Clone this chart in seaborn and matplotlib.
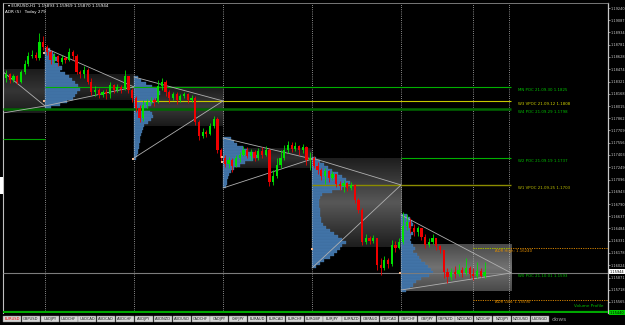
import numpy as np
import pandas as pd
import matplotlib
matplotlib.use("Agg")
import matplotlib.pyplot as plt
import seaborn as sns
from matplotlib.colors import LinearSegmentedColormap
from matplotlib.patches import Rectangle
from matplotlib.ticker import FixedLocator, FixedFormatter

# ---------------- data (EURUSD, H1) ----------------
first_open = 1.1837
closes = [1.1842, 1.1834, 1.1839, 1.1832, 1.1844, 1.1854, 1.1864, 1.1865, 1.1862, 1.1882, 1.1875,
          1.1869, 1.1859, 1.1864, 1.1857, 1.1862, 1.1859, 1.1869, 1.1864, 1.1844, 1.1842, 1.1847, 1.1832,
          1.1819, 1.1822, 1.1815, 1.1819, 1.1817, 1.1828, 1.1822, 1.1825, 1.1823, 1.1839, 1.1822, 1.1812,
          1.1799, 1.1787, 1.1803, 1.1807, 1.1809, 1.1807, 1.1827, 1.1832, 1.1819, 1.1812, 1.1817, 1.1809,
          1.1814, 1.1817, 1.1809, 1.1812, 1.1782, 1.1764, 1.1769, 1.1767, 1.1777, 1.1785, 1.1747, 1.1737,
          1.1729, 1.1734, 1.1727, 1.1737, 1.1740, 1.1747, 1.1739, 1.1744, 1.1737, 1.1745, 1.1740, 1.1747,
          1.1707, 1.1714, 1.1728, 1.1737, 1.1747, 1.1753, 1.1748, 1.1752, 1.1747, 1.1750, 1.1734, 1.1737,
          1.1727, 1.1722, 1.1714, 1.1720, 1.1712, 1.1717, 1.1704, 1.1702, 1.1705, 1.1699, 1.1703, 1.1684,
          1.1672, 1.1632, 1.1637, 1.1633, 1.1637, 1.1603, 1.1599, 1.1609, 1.1604, 1.1628, 1.1624, 1.1632,
          1.1652, 1.1657, 1.1649, 1.1644, 1.1649, 1.1638, 1.1628, 1.1632, 1.1637, 1.1627, 1.1622, 1.1594,
          1.1588, 1.1594, 1.1592, 1.1597, 1.1593, 1.1599, 1.1592, 1.1589, 1.1595, 1.1589, 1.1594]
highs = [1.1847, 1.1843, 1.1842, 1.1840, 1.1847, 1.1859, 1.1869, 1.1872, 1.1869, 1.1893, 1.1889,
         1.1878, 1.1872, 1.1868, 1.1865, 1.1865, 1.1864, 1.1874, 1.1872, 1.1867, 1.1847, 1.1852, 1.1849,
         1.1837, 1.1827, 1.1824, 1.1822, 1.1823, 1.1832, 1.1829, 1.1829, 1.1828, 1.1847, 1.1839, 1.1824,
         1.1814, 1.1803, 1.1809, 1.1810, 1.1813, 1.1812, 1.1834, 1.1837, 1.1834, 1.1822, 1.1819, 1.1819,
         1.1817, 1.1819, 1.1818, 1.1815, 1.1814, 1.1784, 1.1774, 1.1772, 1.1780, 1.1789, 1.1788, 1.1749,
         1.1740, 1.1738, 1.1737, 1.1740, 1.1744, 1.1752, 1.1750, 1.1748, 1.1747, 1.1749, 1.1750, 1.1752,
         1.1749, 1.1722, 1.1737, 1.1747, 1.1753, 1.1758, 1.1757, 1.1757, 1.1753, 1.1754, 1.1752, 1.1744,
         1.1739, 1.1732, 1.1724, 1.1724, 1.1722, 1.1720, 1.1715, 1.1708, 1.1709, 1.1707, 1.1707, 1.1704,
         1.1687, 1.1674, 1.1642, 1.1639, 1.1640, 1.1634, 1.1612, 1.1614, 1.1612, 1.1634, 1.1633, 1.1637,
         1.1669, 1.1667, 1.1662, 1.1654, 1.1652, 1.1649, 1.1642, 1.1637, 1.1642, 1.1637, 1.1628, 1.1622,
         1.1599, 1.1599, 1.1602, 1.1604, 1.1600, 1.1612, 1.1602, 1.1599, 1.1607, 1.1599, 1.1607]
lows = [1.1832, 1.1830, 1.1832, 1.1829, 1.1830, 1.1842, 1.1852, 1.1862, 1.1859, 1.1859, 1.1872,
        1.1865, 1.1854, 1.1855, 1.1852, 1.1854, 1.1855, 1.1858, 1.1859, 1.1842, 1.1837, 1.1837, 1.1829,
        1.1815, 1.1814, 1.1812, 1.1813, 1.1810, 1.1812, 1.1818, 1.1819, 1.1818, 1.1822, 1.1818, 1.1807,
        1.1794, 1.1782, 1.1783, 1.1799, 1.1804, 1.1802, 1.1805, 1.1822, 1.1814, 1.1805, 1.1809, 1.1804,
        1.1807, 1.1812, 1.1805, 1.1807, 1.1778, 1.1759, 1.1762, 1.1763, 1.1765, 1.1774, 1.1743, 1.1733,
        1.1725, 1.1724, 1.1719, 1.1725, 1.1732, 1.1739, 1.1737, 1.1734, 1.1733, 1.1734, 1.1737, 1.1739,
        1.1702, 1.1703, 1.1712, 1.1724, 1.1734, 1.1743, 1.1744, 1.1745, 1.1740, 1.1743, 1.1728, 1.1722,
        1.1724, 1.1717, 1.1709, 1.1704, 1.1707, 1.1709, 1.1700, 1.1697, 1.1694, 1.1695, 1.1697, 1.1680,
        1.1668, 1.1628, 1.1629, 1.1629, 1.1630, 1.1597, 1.1590, 1.1597, 1.1599, 1.1602, 1.1619, 1.1623,
        1.1629, 1.1647, 1.1643, 1.1639, 1.1639, 1.1634, 1.1624, 1.1625, 1.1629, 1.1622, 1.1618, 1.1587,
        1.1580, 1.1584, 1.1587, 1.1589, 1.1588, 1.1590, 1.1587, 1.1584, 1.1587, 1.1588, 1.1587]

day_separators = [10.5, 34.5, 58.5, 82.5, 106.5, 125.9, 135.6]

# value-area boxes
box_start = [-0.83, 10.5, 34.5, 58.5, 82.5, 106.5]
box_end = [10.5, 34.5, 58.5, 82.5, 106.5, 136.2]
box_top = [1.18478, 1.18415, 1.18253, 1.17490, 1.17365, 1.16290]
box_bottom = [1.17928, 1.18090, 1.17765, 1.17240, 1.16253, 1.15703]
box_center = ['#353535', '#2a2a2a', '#3a3a3a', '#303030', '#585858', '#727272']
box_edge = ['#1c1c1c', '#171717', '#1a1a1a', '#1a1a1a', '#1e1e1e', '#4a4a4a']

# volume profiles (daily)
prof_start = [10.5, 34.5, 58.5, 82.5, 106.5]
prof_first_level = [1.18715, 1.18365, 1.17603, 1.17353, 1.16640]
prof_step = 0.000375
prof_volumes = [
    [5, 8, 10, 12, 9, 14, 17, 15, 20, 24, 27, 30, 33, 35, 32, 30, 28, 22, 15, 6],
    [4, 7, 12, 18, 24, 26, 24, 22, 20, 17, 14, 16, 18, 19, 17, 14, 10, 9, 8, 7, 6, 6, 5, 5, 4, 4, 3, 2],
    [8, 11, 14, 20, 25, 30, 34, 30, 22, 17, 11, 8, 6, 5, 4, 4, 3],
    [4, 8, 12, 16, 20, 26, 30, 34, 38, 36, 30, 20, 10, 8, 7, 7, 7, 8, 8, 8, 9, 9, 11, 14, 18, 22,
     26, 30, 34, 30, 28, 25, 22, 18, 12, 8, 4],
    [6, 9, 11, 12, 10, 9, 12, 10, 9, 10, 12, 14, 12, 16, 18, 20, 24, 27, 30, 32, 28, 20, 15, 12, 9, 5],
]

# converging range lines of each profile
tri_start = [-13.5, 10.5, 34.5, 58.5, 82.5, 106.5]
tri_end = [10.5, 34.5, 58.5, 82.5, 106.5, 136.2]
tri_high = [1.1892, 1.18740, 1.18378, 1.17615, 1.17365, 1.16653]
tri_low = [1.1783, 1.18015, 1.17365, 1.16990, 1.15990, 1.15715]
tri_poc = [1.18015, 1.18253, 1.18078, 1.17353, 1.17028, 1.15928]

# marker points
mark_x = [10.2, 10.2, 34.2, 58.2, 58.2, 82.5, 106.2]
mark_y = [1.18678, 1.18078, 1.17353, 1.17378, 1.17315, 1.16228, 1.15928]

# POC levels
level_names = ["MN POC 21.09.30", "W3 VPOC 21.09.12", "W4 POC 21.09.29", "", "W2 POC 21.09.19",
               "W1 VPOC 21.09.25", "W0 POC 21.10.01"]
level_prices = [1.1825, 1.1808, 1.1798, 1.1760, 1.1737, 1.1703, 1.1593]
level_start = [10.5, 34.5, -0.83, -0.83, 106.5, 82.5, -0.83]
level_end = [136.2, 136.2, 136.2, 10.5, 136.2, 136.2, 162.3]
level_colors = ['#00b000', '#c8c800', '#006800', '#00a000', '#00b000', '#8c8c00', '#7c7c7c']
level_widths = [0.8, 0.8, 1.8, 0.8, 0.8, 1.0, 0.8]
label_colors = ['#00c800', '#d4d400', '#00c000', '#00c000', '#00c000', '#c0c000', '#00c000']

adr_high = 1.1624
adr_low = 1.1559
support_level = 1.1544
current_price = 1.15944

price_ticks = [1.19240, 1.19087, 1.18934, 1.18781, 1.18628, 1.18474, 1.18321, 1.18168, 1.18015,
               1.17862, 1.17709, 1.17556, 1.17403, 1.17249, 1.17096, 1.16943, 1.16790, 1.16637,
               1.16484, 1.16331, 1.16178, 1.16024, 1.15871, 1.15718, 1.15565]

tabs = ["EURUSD", "GBPUSD", "USDJPY", "USDCHF", "USDCAD", "AUDCAD", "AUDCHF", "AUDJPY", "AUDNZD",
        "AUDUSD", "CADCHF", "CADJPY", "CHFJPY", "EURAUD", "EURCAD", "EURCHF", "EURGBP", "EURJPY",
        "EURNZD", "GBPAUD", "GBPCAD", "GBPCHF", "GBPJPY", "GBPNZD", "NZDCAD", "NZDCHF", "NZDJPY",
        "NZDUSD", "USDSGD"]

# ---------------- style ----------------
sns.set_theme(style="dark", rc={"axes.facecolor": "black", "figure.facecolor": "black",
                                "axes.grid": False})
plt.rcParams['font.family'] = ['DejaVu Sans']

W, H = 625, 325
fig = plt.figure(figsize=(W / 100, H / 100), dpi=100)
fig.patch.set_facecolor('black')
ax = fig.add_axes([3 / W, 12 / H, 605 / W, 310 / H])
ax.set_facecolor('black')

XMIN, XMAX = -0.83, 162.3
YMIN, YMAX = 1.154275, 1.193025

# boxes with vertical gradient
grad = np.linspace(0, 1, 64).reshape(-1, 1)
for x0, x1, t, b, ce, ed in zip(box_start, box_end, box_top, box_bottom, box_center, box_edge):
    cmap = LinearSegmentedColormap.from_list('g', [ed, ce, ed])
    ax.imshow(grad, extent=[x0, x1, b, t], aspect='auto', cmap=cmap, zorder=1,
              interpolation='bilinear', origin='lower')

# volume profiles
vol_scale = 1 / 3.708
for s, lvl0, vols in zip(prof_start, prof_first_level, prof_volumes):
    vols = np.array(vols, dtype=float)
    levels = lvl0 - prof_step * np.arange(len(vols))
    ax.barh(levels, vols * vol_scale, left=s, height=prof_step,
            color='#3f70a3', edgecolor='#4d80b4', lw=0.2, zorder=2)

# separators
ax.vlines(day_separators, YMIN, YMAX, colors='#b8b8b8', linestyles=(0, (1, 1.6)),
          lw=0.6, zorder=2.5)

# POC levels
for n, p, s, e, c, w, lc in zip(level_names, level_prices, level_start, level_end,
                                level_colors, level_widths, label_colors):
    ax.hlines(p, s, e, colors=c, lw=w, zorder=3)
    if n:
        ax.text(138.1, p - 0.000375, f"{n} {p:.4f}", color=lc, fontsize=2.8,
                va='center', ha='left', zorder=6)

ax.hlines(support_level, XMIN, XMAX, colors='#00a800', lw=1.6, zorder=3)

# ADR levels
ax.hlines(adr_high, 125.9, XMAX, colors='#d08000', linestyles=(0, (1.2, 1.2)), lw=0.7, zorder=3)
ax.hlines(adr_high, 125.9, 135.6, colors='#90c000', linestyles=(0, (1.2, 1.2)), lw=0.7, zorder=3.1)
ax.hlines(adr_low, 125.9, XMAX, colors='#d08000', linestyles=(0, (1.2, 1.2)), lw=0.7, zorder=3)
ax.text(131.9, adr_high - 0.000375, f"ADR High: {adr_high:.5f}", color='#e08c00', fontsize=2.8,
        va='center', zorder=6)
ax.text(131.9, adr_low - 0.000250, f"ADR Low: {adr_low:.5f}", color='#e08c00', fontsize=2.8,
        va='center', zorder=6)

# converging lines
rows = []
for i, (s, e, hi, lo, poc) in enumerate(zip(tri_start, tri_end, tri_high, tri_low, tri_poc)):
    rows += [dict(x=s, price=hi, seg=f"h{i}"), dict(x=e, price=poc, seg=f"h{i}"),
             dict(x=s, price=lo, seg=f"l{i}"), dict(x=e, price=poc, seg=f"l{i}")]
tri_df = pd.DataFrame(rows)
sns.lineplot(data=tri_df, x='x', y='price', units='seg', estimator=None, sort=False,
             color='#b0b0b0', lw=0.6, ax=ax, legend=False, zorder=3.5)

# candles
o = np.array([first_open] + closes[:-1])
c = np.array(closes)
h = np.maximum(np.array(highs), np.maximum(o, c))
l = np.minimum(np.array(lows), np.minimum(o, c))
x = np.arange(len(c))
up = c >= o
cols = np.where(up, '#00e000', '#f00000')
ax.vlines(x, l, h, colors=cols, lw=0.6, zorder=4)
body_b = np.minimum(o, c)
body_h = np.maximum(np.abs(c - o), 0.00008)
ax.bar(x, body_h, bottom=body_b, width=0.6, color=cols, edgecolor='none', zorder=4.2)

# markers
sns.scatterplot(x=mark_x, y=mark_y, marker='s', s=2.5, color='#f2b48a', edgecolor='none',
                ax=ax, zorder=5, legend=False)

ax.text(161.0, 1.15515, "Volume Profile", color='#00c000', fontsize=3, ha='right',
        va='center', zorder=6)

ax.set_xlim(XMIN, XMAX)
ax.set_ylim(YMIN, YMAX)
ax.set_xlabel('')
ax.set_ylabel('')
ax.set_xticks([])
ax.yaxis.tick_right()
ax.yaxis.set_major_locator(FixedLocator(price_ticks))
ax.yaxis.set_major_formatter(FixedFormatter([f"{v:.5f}" for v in price_ticks]))
ax.tick_params(axis='y', which='both', right=True, labelsize=2.5, colors='#c8c8c8',
               length=1.6, width=0.5, pad=0.6)
for lab in ax.get_yticklabels():
    lab.set_color('#d0d0d0')
for side, col, lw in [('left', '#c0c0c0', 0.8), ('right', '#c8c8c8', 0.9), ('top', '#8a8a8a', 0.6)]:
    ax.spines[side].set_visible(True)
    ax.spines[side].set_color(col)
    ax.spines[side].set_linewidth(lw)
ax.spines['bottom'].set_visible(False)

# price labels on the axis
ax.annotate(f"{current_price:.5f}", xy=(1.003, current_price), xycoords=('axes fraction', 'data'),
            fontsize=2.5, color='black', va='center', ha='left', annotation_clip=False,
            bbox=dict(fc='white', ec='none', pad=0.5), zorder=7)
ax.annotate(f"{support_level:.5f}", xy=(1.003, support_level - 0.0001),
            xycoords=('axes fraction', 'data'), fontsize=2.5, color='black', va='center',
            ha='left', annotation_clip=False,
            bbox=dict(fc='#00d000', ec='none', pad=0.5), zorder=7)

# header texts
fig.text(8 / W, 1 - 6 / H, "\u25be EURUSD,H1  1.15893 1.15969 1.15870 1.15944", color='white',
         fontsize=3, va='center', ha='left')
fig.text(5 / W, 1 - 12 / H, "ADR (5)   Today 279", color='white', fontsize=3, va='center',
         ha='left')

# tab bar
tb = fig.add_axes([0, 0, 1, 12 / H])
tb.set_xlim(0, W)
tb.set_ylim(12, 0)
tb.axis('off')
tab_w = 18.85
for i, name in enumerate(tabs):
    x0 = 3 + i * tab_w
    tb.add_patch(Rectangle((x0, 3.4), tab_w - 0.8, 6.0, fc='#d6d6d6', ec='#7a7a7a', lw=0.3))
    tb.text(x0 + (tab_w - 0.8) / 2, 6.4, name, fontsize=2.6,
            color='#e00000' if i == 0 else '#202020', ha='center', va='center')
tb.text(552, 6.6, "dows", fontsize=4.2, color='#9a9a9a', ha='left', va='center')

# white edge artefact at left
fig.patches.append(Rectangle((0, 1 - 194 / H), 2.5 / W, 17 / H, transform=fig.transFigure,
                             fc='white', ec='none'))

fig.savefig('out.png', dpi=100, facecolor='black')
